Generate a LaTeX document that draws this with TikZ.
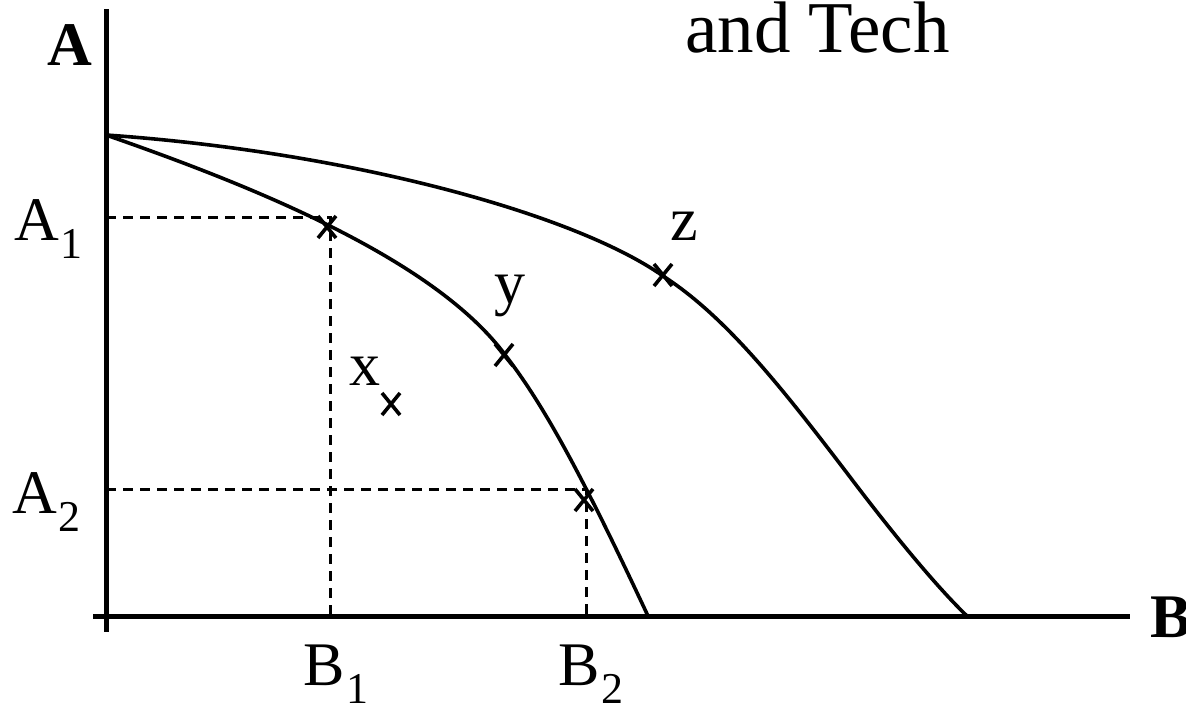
\documentclass[tikz,border=0pt]{standalone}
\usepackage{fontspec}
\setmainfont{Liberation Serif}
\begin{document}
\begin{tikzpicture}[x=1pt,y=-1pt,
  axis/.style={line width=5pt},
  curve/.style={line width=3.6pt, line join=round},
  guide/.style={line width=3pt, dash pattern=on 10pt off 7pt},
  markline/.style={line width=3.6pt},
  lbl/.style={anchor=base west, inner sep=0pt, font=\fontsize{62}{62}\selectfont},
  bold/.style={anchor=base west, inner sep=0pt, font=\fontsize{62}{62}\selectfont\bfseries},
  cross/.pic={\draw[markline] (-9,-11)--(9,11) (-9,11)--(9,-11);}
]
\useasboundingbox (0,0) rectangle (1186,704);
\newcommand{\sbs}[1]{\raisebox{-18pt}{\fontsize{44}{44}\selectfont #1}}

% axes
\coordinate (ytop) at (106,9);
\coordinate (ybot) at (106,632);
\coordinate (xleft) at (93,616);
\coordinate (xright) at (1130,616);
\draw[axis] (ytop) -- (ybot);
\draw[axis] (xleft) -- (xright);

% key points
\coordinate (O) at (106,135);
\coordinate (a1) at (106,217);
\coordinate (a2) at (106,489);
\coordinate (b1) at (330,616);
\coordinate (b2) at (586,616);
\coordinate (c1) at (330,217);
\coordinate (c2) at (586,489);
\coordinate (mA1) at (327,227);
\coordinate (mY) at (504,355);
\coordinate (mA2) at (584,500);
\coordinate (mZ) at (663,275);
\coordinate (mX) at (391,404);
\coordinate (ie) at (648,616);
\coordinate (oe) at (967,616);

% dashed guides
\draw[guide] (a1) -- (c1) -- (b1);
\draw[guide] (a2) -- (c2) -- (b2);

% inner curve
\draw[curve] (O) .. controls (250,185) and (430,257) .. (503,352)
                 .. controls (540,400) and (575,460) .. (ie);
% outer curve
\draw[curve] (O) .. controls (350,152) and (575,214) .. (663,276)
                 .. controls (725,316) and (780,385) .. (850,477)
                 .. controls (900,543) and (940,590) .. (oe);

% marks
\pic at (mA1) {cross};
\pic at (mY) {cross};
\pic at (mA2) {cross};
\pic at (mZ) {cross};
\pic at (mX) {cross};

% labels
\node[bold] (lA) at (47,65) {A};
\node[bold] (lB) at (1150,637) {B};
\node[lbl] (lA1) at (14,240) {A\kern2pt\sbs{1}};
\node[lbl] (lA2) at (12,513) {A\kern2pt\sbs{2}};
\node[lbl] (lB1) at (303,685) {B\kern2pt\sbs{1}};
\node[lbl] (lB2) at (558,685) {B\kern2pt\sbs{2}};
\node[lbl] (lx) at (349,385) {x};
\node[lbl] (ly) at (494,303) {y};
\node[lbl] (lz) at (670,240) {z};
\node[anchor=base west, inner sep=0pt, font=\fontsize{73}{73}\selectfont] (title) at (685,52) {and Tech};
\end{tikzpicture}
\end{document}
